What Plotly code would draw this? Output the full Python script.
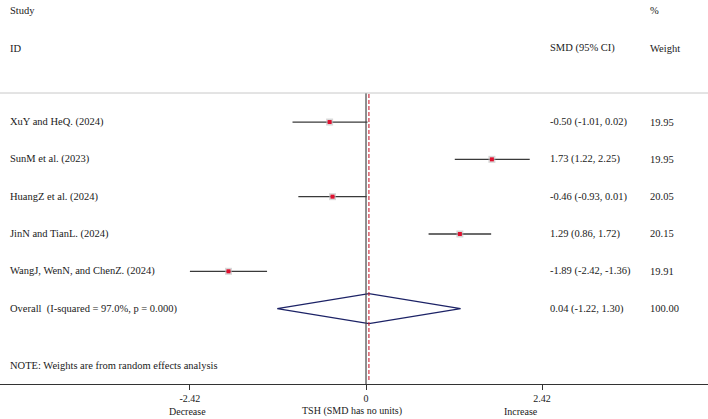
import plotly.graph_objects as go

# ---- data ----
studies = ["XuY and HeQ. (2024)", "SunM et al. (2023)", "HuangZ et al. (2024)",
           "JinN and TianL. (2024)", "WangJ, WenN, and ChenZ. (2024)"]
smd = [-0.50, 1.73, -0.46, 1.29, -1.89]
ci_low = [-1.01, 1.22, -0.93, 0.86, -2.42]
ci_high = [0.02, 2.25, 0.01, 1.72, -1.36]
weights = ["19.95", "19.95", "20.05", "20.15", "19.91"]
ci_text = ["-0.50 (-1.01, 0.02)", "1.73 (1.22, 2.25)", "-0.46 (-0.93, 0.01)",
           "1.29 (0.86, 1.72)", "-1.89 (-2.42, -1.36)"]

overall_label = "Overall  (I-squared = 97.0%, p = 0.000)"
overall_est = 0.04
overall_low = -1.22
overall_high = 1.30
overall_text = "0.04 (-1.22, 1.30)"
overall_weight = "100.00"

tick_vals = [-2.42, 0, 2.42]
tick_text = ["-2.42", "0", "2.42"]

# ---- layout helpers ----
W, H = 708, 419
FONT = "Liberation Serif"
FS = 10.5
TXT = "#1a1a1a"

def py(p):  # pixel from top -> paper y
    return 1 - p / H

def px(p):  # pixel from left -> paper x
    return p / W

rows = list(range(1, len(studies) + 1))
overall_row = len(studies) + 1

fig = go.Figure()

# CI lines
for r, lo, hi in zip(rows, ci_low, ci_high):
    fig.add_trace(go.Scatter(x=[lo, hi], y=[r, r], mode="lines",
                             line=dict(color="#3a3a3a", width=1.3),
                             hoverinfo="skip", showlegend=False))
# weight boxes + point estimate
fig.add_trace(go.Scatter(x=smd, y=rows, mode="markers",
                         marker=dict(symbol="square", size=7, color="rgba(190,190,190,0.6)",
                                     line=dict(width=0)),
                         hoverinfo="skip", showlegend=False))
fig.add_trace(go.Scatter(x=smd, y=rows, mode="markers",
                         marker=dict(symbol="square", size=4, color="#e0102f",
                                     line=dict(width=0)),
                         showlegend=False))

# diamond
hh = 0.40
fig.add_trace(go.Scatter(
    x=[overall_low, overall_est, overall_high, overall_est, overall_low],
    y=[overall_row, overall_row - hh, overall_row, overall_row + hh, overall_row],
    mode="lines", line=dict(color="#1c2266", width=1.2),
    hoverinfo="skip", showlegend=False))

# vertical lines
fig.add_shape(type="line", xref="x", yref="paper", x0=0, x1=0,
              y0=py(384), y1=py(93), line=dict(color="#444", width=1.2))
fig.add_shape(type="line", xref="x", yref="paper", x0=overall_est, x1=overall_est,
              y0=py(380), y1=py(93), line=dict(color="#cc2233", width=1.1, dash="4px,2px"))
# gray separator
fig.add_shape(type="line", xref="paper", yref="paper", x0=0, x1=1,
              y0=py(93), y1=py(93), line=dict(color="#c8c8c8", width=1))

def ann(text, x, y, xref="paper", yref="paper", xanchor="left", size=FS):
    fig.add_annotation(text=text, x=x, y=y, xref=xref, yref=yref,
                       xanchor=xanchor, yanchor="middle", showarrow=False,
                       font=dict(family=FONT, size=size, color=TXT))

# headers
ann("Study", px(8), py(10))
ann("ID", px(8), py(48))
ann("%", px(648), py(10))
ann("SMD (95% CI)", px(548), py(48))
ann("Weight", px(648), py(48))

# study rows
for r, s, ct, w in zip(rows, studies, ci_text, weights):
    ann(s, px(8), r, yref="y")
    ann(ct, px(548), r, yref="y")
    ann(w, px(648), r, yref="y")
ann(overall_label, px(8), overall_row, yref="y")
ann(overall_text, px(548), overall_row, yref="y")
ann(overall_weight, px(648), overall_row, yref="y")

ann("NOTE: Weights are from random effects analysis", px(8), py(365))

# axis descriptors
ann("Decrease", -2.45, py(411), xref="x", xanchor="center", size=10)
ann("TSH (SMD has no units)", -0.19, py(411), xref="x", xanchor="center", size=10)
ann("Increase", 2.13, py(411), xref="x", xanchor="center", size=10)

fig.update_layout(
    width=W, height=H,
    margin=dict(l=0, r=0, t=0, b=0),
    paper_bgcolor="white", plot_bgcolor="white",
    xaxis=dict(range=[-5.03, 4.70], tickvals=tick_vals, ticktext=tick_text,
               showgrid=False, zeroline=False, showline=True, linecolor="#333",
               linewidth=1, ticks="outside", ticklen=5, tickcolor="#333",
               tickfont=dict(family=FONT, size=10, color=TXT),
               ticklabelstandoff=0, fixedrange=True),
    yaxis=dict(range=[8.02, -2.27], domain=[1 - 384 / H, 1], visible=False,
               fixedrange=True),
    showlegend=False,
)

fig.write_html("out.html")
